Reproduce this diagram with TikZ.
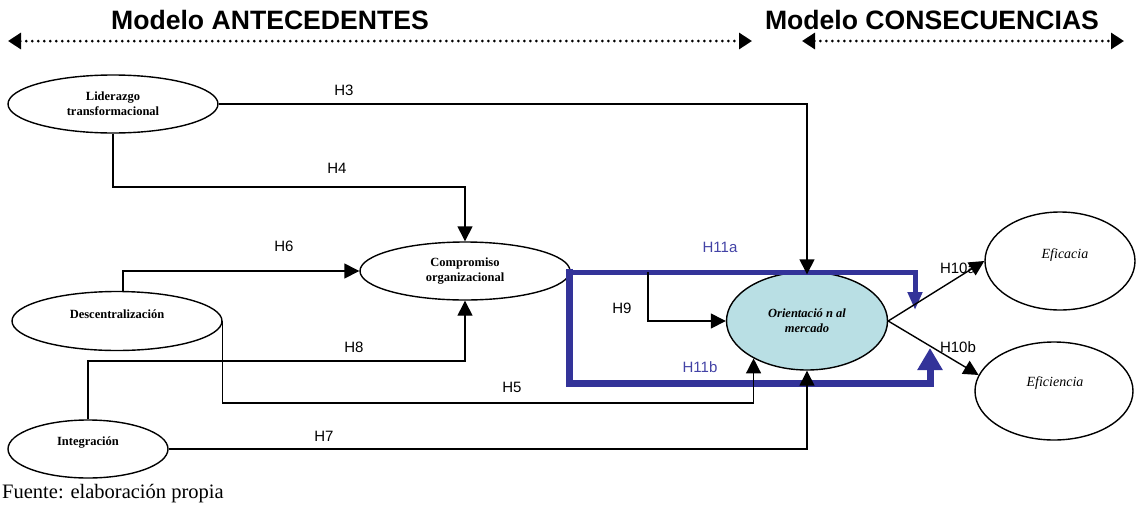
\documentclass[tikz,border=0pt]{standalone}
\usepackage{fontspec}
\setmainfont{Liberation Serif}
\newfontfamily\arialf{Liberation Sans}
\usetikzlibrary{arrows.meta,shapes.geometric}
\definecolor{boxblue}{HTML}{333399}
\definecolor{labblue}{HTML}{4343A6}
\definecolor{omfill}{HTML}{B9DFE4}
\begin{document}
\begin{tikzpicture}[x=1pt,y=-1pt,
  construct/.style={ellipse, draw, line width=1.4pt, inner sep=0pt, align=center,
    font=\fontsize{12.5}{15}\selectfont\bfseries},
  ctext/.style={inner sep=0pt, align=center, font=\fontsize{12.5}{15}\selectfont\bfseries},
  itext/.style={inner sep=0pt, align=center, font=\fontsize{14}{17}\selectfont\itshape},
  link/.style={line width=1.4pt, -{Triangle[length=15pt,width=15pt]}},
  hlabel/.style={inner sep=0pt, font=\arialf\fontsize{15}{18}\selectfont},
  blabel/.style={inner sep=0pt, text=labblue, font=\arialf\fontsize{15}{18}\selectfont},
  span/.style={line width=3pt, line cap=round, dash pattern=on 0pt off 6pt,
    {Triangle[length=13pt,width=16pt]}-{Triangle[length=13pt,width=16pt]}},
  title/.style={inner sep=0pt, anchor=base, font=\arialf\fontsize{26.6}{32}\selectfont\bfseries}]
\useasboundingbox (0,0) rectangle (1136,504);

% headings with their dotted range arrows
\node[title] (tant) at (270,29) {Modelo ANTECEDENTES};
\node[title] (tcon) at (932,29) {Modelo CONSECUENCIAS};
\coordinate (a1) at (8,41);
\coordinate (a2) at (752,41);
\coordinate (c1) at (802,41);
\coordinate (c2) at (1124,41);
\draw[span] (a1) -- (a2);
\draw[span] (c1) -- (c2);

% constructs
\node[construct, minimum width=210pt, minimum height=58pt] (lid) at (113,104) {Liderazgo\\transformacional};
\node[construct, minimum width=210pt, minimum height=58pt] (com) at (465,271) {Compromiso\\organizacional};
\node[construct, minimum width=210pt, minimum height=59pt] (des) at (117,321) {};
\node[ctext] (dest) at (117,314) {Descentralización};
\node[construct, minimum width=160pt, minimum height=58pt] (int) at (88,449) {};
\node[ctext] (intt) at (88,443) {Integración};
\node[construct, fill=omfill, minimum width=161pt, minimum height=98pt,
  font=\fontsize{12.5}{15}\selectfont\bfseries\itshape] (om) at (807,321) {Orientació n al\\mercado};
\node[construct, minimum width=150pt, minimum height=98pt] (efa) at (1060,261) {};
\node[itext] (efat) at (1065,255) {Eficacia};
\node[construct, minimum width=158pt, minimum height=98pt] (efi) at (1054,391) {};
\node[itext] (efit) at (1055,383) {Eficiencia};

% blue moderating frame
\coordinate (fb0) at (569,268.5);
\coordinate (fb1) at (569,383);
\coordinate (fb2) at (930,383);
\coordinate (fb3) at (930,348);
\coordinate (fa0) at (565.5,272);
\coordinate (fa1) at (915,272);
\coordinate (fa2) at (915,310);
\draw[boxblue, line width=7pt, -{Triangle[length=22pt,width=24pt]}] (fb0) -- (fb1) -- (fb2) -- (fb3);
\draw[boxblue, line width=5pt, -{Triangle[length=18pt,width=14pt]}] (fa0) -- (fa1) -- (fa2);
\node[blabel] (h11a) at (720,247) {H11a};
\node[blabel] (h11b) at (700,367) {H11b};

% hypotheses labels
\node[hlabel] (h3) at (344,90) {H3};
\node[hlabel] (h4) at (337,168) {H4};
\node[hlabel] (h6) at (284,246) {H6};
\node[hlabel] (h8) at (354,347) {H8};
\node[hlabel] (h5) at (512,387) {H5};
\node[hlabel] (h7) at (324,436) {H7};
\node[hlabel] (h9) at (622,308) {H9};
\node[hlabel] (h10a) at (958,268) {H10a};
\node[hlabel] (h10b) at (958,347) {H10b};

% paths
\draw[link] (lid.east) -| ([yshift=-3pt]om.north);
\draw[link] (lid.south) -- (lid.south |- 0,187) -| (com.north);
\draw[link] ([xshift=6pt]des.north) |- (com.west);
\draw[link] (int.north) -- (int.north |- 0,361) -| (com.south);
\draw[link] (des.east) -- (des.east |- 0,403) -| (om.215);
\draw[link] (int.east) -| (om.south);
\coordinate (h9s) at (648,272);
\draw[link] (h9s) |- (om.west);
\draw[link] (om.east) -- (efa.west);
\draw[link] (om.east) -- (efi.168);

% source note
\node[inner sep=0pt, anchor=base west, font=\fontsize{20.5}{24}\selectfont] (src) at (2,498) {Fuente: elaboración propia};
\end{tikzpicture}
\end{document}
